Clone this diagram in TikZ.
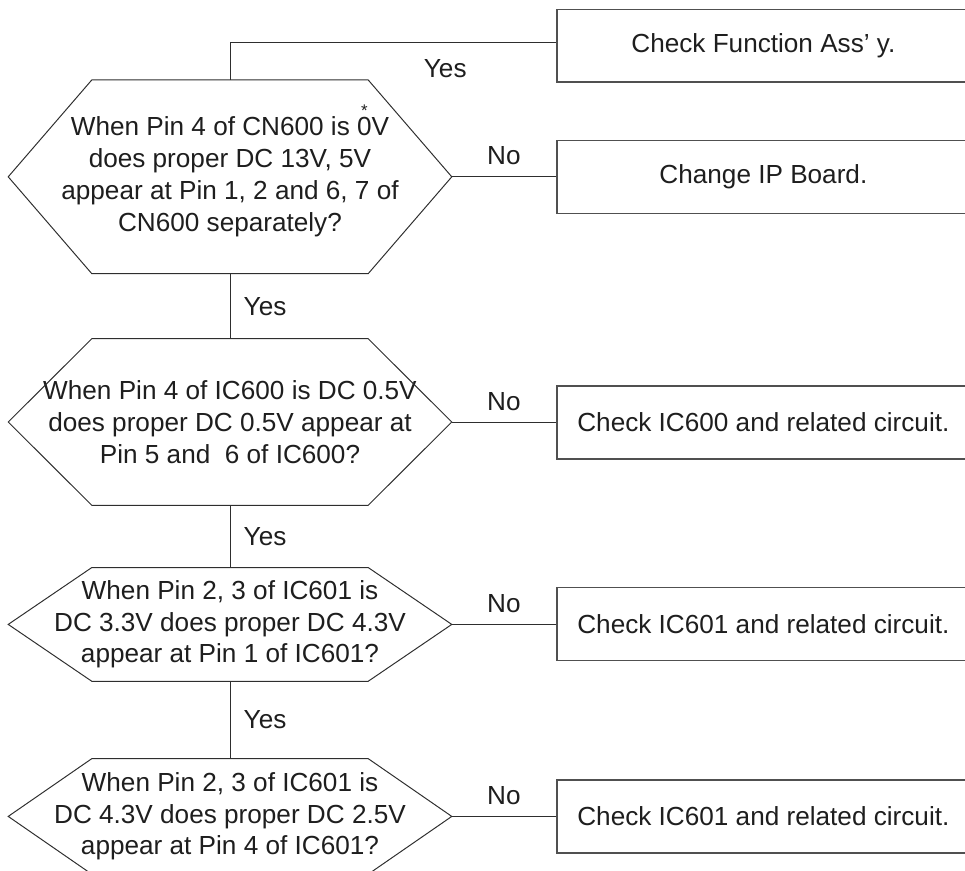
\documentclass[tikz,border=0pt]{standalone}
\usepackage{fontspec}
\setmainfont{Liberation Sans}
\usepackage{xcolor}
\usepackage{tikz}
\usetikzlibrary{positioning}
\definecolor{linegray}{HTML}{2E2E2E}
\definecolor{boxgray}{HTML}{505050}
\definecolor{inkgray}{HTML}{1E1E1E}
\newcommand{\starzero}{\ooalign{\hfil\smash{\raisebox{0.76em}{\fontsize{12pt}{12pt}\selectfont*}}\hfil\cr0\cr}}

\begin{document}
\begin{tikzpicture}[
  txt/.style={text=inkgray, font=\fontsize{18.6pt}{22.6pt}\selectfont},
  question/.style={txt, inner sep=0pt, align=center, minimum width=11.075cm},
  answer/.style={txt, draw=boxgray, line width=1pt, minimum width=10.33cm, minimum height=1.82cm},
  link/.style={draw=linegray, line width=0.7pt},
  nolabel/.style={txt, inner sep=0pt, above=0.28cm},
  yeslabel/.style={txt, inner sep=0pt, right=0.33cm}
]
\useasboundingbox (0,0) rectangle (24.125,-21.75);

\node[question, minimum height=4.83cm] (q1) at (5.75,-4.42) {When Pin 4 of CN600 is \starzero V\\does proper DC 13V, 5V\\appear at Pin 1, 2 and 6, 7 of\\CN600 separately?};
\node[question, minimum height=4.15cm] (q2) at (5.75,-10.55) {When Pin 4 of IC600 is DC 0.5V\\does proper DC 0.5V appear at\\Pin 5 and~ 6 of IC600?};
\node[question, minimum height=2.83cm] (q3) at (5.75,-15.61) {When Pin 2, 3 of IC601 is\\DC 3.3V does proper DC 4.3V\\appear at Pin 1 of IC601?};
\node[question, minimum height=2.875cm] (q4) at (5.75,-20.41) {When Pin 2, 3 of IC601 is\\DC 4.3V does proper DC 2.5V\\appear at Pin 4 of IC601?};

\foreach \q in {q1,q2,q3,q4}
  \draw[link] (\q.west) -- ([xshift=2.09cm]\q.north west) -- ([xshift=-2.09cm]\q.north east) -- (\q.east) -- ([xshift=-2.09cm]\q.south east) -- ([xshift=2.09cm]\q.south west) -- cycle;

\node[answer] (ans1) at (19.085,-1.14) {Check Function Ass’ y.};
\node[answer] (ans2) at (19.085,-4.42) {Change IP Board.};
\node[answer] (ans3) at (19.085,-10.56) {Check IC600 and related circuit.};
\node[answer] (ans4) at (19.085,-15.6) {Check IC601 and related circuit.};
\node[answer] (ans5) at (19.085,-20.41) {Check IC601 and related circuit.};

\coordinate (turn) at (5.75,-1.07);
\draw[link] (q1.north) -- (turn) -- node[txt, inner sep=0pt, pos=0.66, below=0.4cm] {Yes} (turn -| ans1.west);

\draw[link] (q1.east) -- node[nolabel] {No} (q1.east -| ans2.west);
\draw[link] (q2.east) -- node[nolabel] {No} (q2.east -| ans3.west);
\draw[link] (q3.east) -- node[nolabel] {No} (q3.east -| ans4.west);
\draw[link] (q4.east) -- node[nolabel] {No} (q4.east -| ans5.west);

\draw[link] (q1.south) -- node[yeslabel] {Yes} (q2.north);
\draw[link] (q2.south) -- node[yeslabel] {Yes} (q3.north);
\draw[link] (q3.south) -- node[yeslabel] {Yes} (q4.north);
\end{tikzpicture}
\end{document}
